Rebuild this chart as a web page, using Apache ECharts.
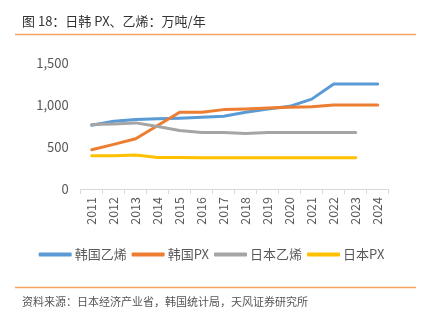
<!DOCTYPE html>
<html><head><meta charset="utf-8">
<script src="https://cdn.jsdelivr.net/npm/echarts@6/dist/echarts.min.js"></script>
<style>html,body{margin:0;padding:0;background:#fff;}#c{width:423px;height:321px;}</style>
</head><body><div id="c"></div>
<script>
var years = ['2011','2012','2013','2014','2015','2016','2017','2018','2019','2020','2021','2022','2023','2024'];
var korEthylene = [760, 806, 826, 835, 842, 854, 866, 913, 952, 984, 1070, 1250, 1250, 1250];
var korPX = [468, 531, 598, 755, 913, 913, 945, 952, 964, 972, 980, 1000, 1000, 1000];
var jpnEthylene = [767, 775, 787, 744, 697, 673, 673, 661, 673, 673, 673, 673, 673, null];
var jpnPX = [397, 397, 405, 374, 374, 372, 372, 372, 372, 372, 372, 372, 372, null];
var seriesNames = ['韩国乙烯', '韩国PX', '日本乙烯', '日本PX'];
var colors = ['#5B9BD5', '#ED7D31', '#A5A5A5', '#FFC000'];
var yTicks = {min: 0, max: 1500, interval: 500};
var titleText = '图 18：日韩 PX、乙烯：万吨/年';
var sourceText = '资料来源：日本经济产业省，韩国统计局，天风证券研究所';

var font = '"Microsoft YaHei","Noto Sans CJK SC",sans-serif';
var chart = echarts.init(document.getElementById('c'), null, {renderer: 'canvas'});
function mk(name, data, color) {
  return {name: name, type: 'line', data: data, showSymbol: false, symbol: 'none',
    lineStyle: {width: 3, color: color, cap: 'round', join: 'round'}, itemStyle: {color: color}, smooth: false};
}
chart.setOption({
  animation: false,
  textStyle: {fontFamily: font},
  graphic: [
    {type: 'text', left: 22, top: 15, style: {text: titleText, font: '13px ' + font, fill: '#333'}},
    {type: 'line', shape: {x1: 15, y1: 34.5, x2: 416, y2: 34.5}, style: {stroke: '#F4A460', lineWidth: 1.5}},
    {type: 'line', shape: {x1: 15, y1: 287.5, x2: 416, y2: 287.5}, style: {stroke: '#F4A460', lineWidth: 1.5}},
    {type: 'text', left: 22, top: 296, style: {text: sourceText, font: '11px ' + font, fill: '#555'}}
  ],
  grid: {left: 80.7, right: 34.3, top: 63, bottom: 132, containLabel: false},
  legend: {
    data: seriesNames, top: 243, left: 'center', itemWidth: 33, itemHeight: 4, itemGap: 5,
    icon: 'roundRect',
    textStyle: {fontSize: 13, color: '#595959', fontFamily: font, padding: [0, 0, 0, -2]}
  },
  xAxis: {
    type: 'category', data: years, boundaryGap: true,
    axisLine: {lineStyle: {color: '#D9D9D9', width: 1}},
    axisTick: {show: true, length: 5, lineStyle: {color: '#D9D9D9'}},
    axisLabel: {rotate: 90, fontSize: 12.5, color: '#595959', margin: 8, interval: 0}
  },
  yAxis: {
    type: 'value', min: yTicks.min, max: yTicks.max, interval: yTicks.interval,
    axisLine: {show: false}, axisTick: {show: false}, splitLine: {show: false},
    axisLabel: {fontSize: 13, color: '#595959', margin: 12,
      formatter: function (v) { return v.toLocaleString('en-US'); }}
  },
  series: [
    mk(seriesNames[0], korEthylene, colors[0]),
    mk(seriesNames[1], korPX, colors[1]),
    mk(seriesNames[2], jpnEthylene, colors[2]),
    mk(seriesNames[3], jpnPX, colors[3])
  ]
});
</script></body></html>
